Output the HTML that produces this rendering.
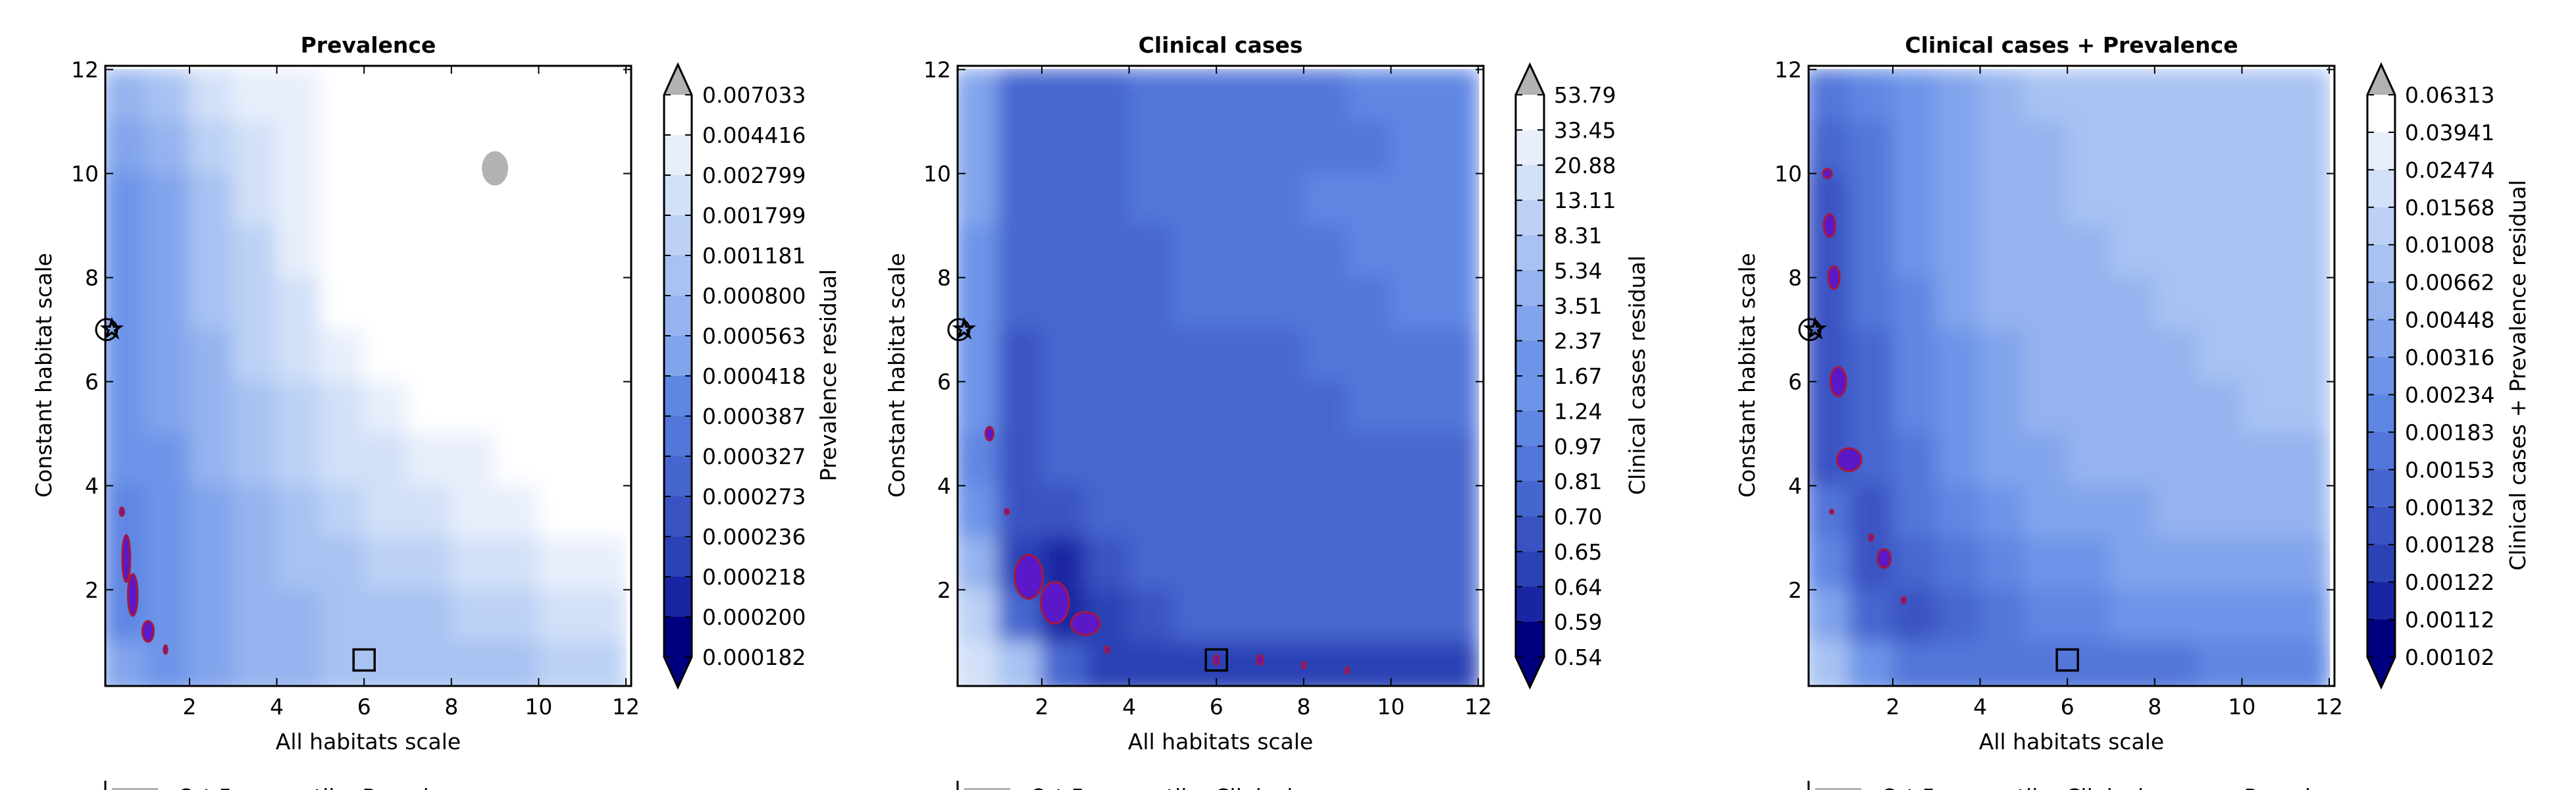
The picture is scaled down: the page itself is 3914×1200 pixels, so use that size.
<!DOCTYPE html>
<html><head><meta charset="utf-8">
<style>
html,body{margin:0;padding:0;background:#fff;}
svg{display:block;font-family:"DejaVu Sans","Liberation Sans",sans-serif;}
</style></head>
<body>
<svg id="fig" width="3914" height="1200" viewBox="0 0 3914 1200" xmlns="http://www.w3.org/2000/svg">
<defs>
<filter id="blur" x="0" y="0" width="100%" height="100%"><feGaussianBlur stdDeviation="15" edgeMode="duplicate"/></filter>
</defs>
</svg>
<script>
// colormap levels (index 0 darkest ... 14 white)
const levelColors = ["#00007f","#1a25a3","#2b42b5","#3a53c2","#4666cf","#5276d9","#5e86e3","#6d94e8","#82a4ec","#95b3ef","#a8c2f2","#bcd1f5","#d2e0f8","#e8effb","#ffffff"];

const xTicks = [2,4,6,8,10,12];
const yTicks = [2,4,6,8,10,12];

const prevLabels = ["0.007033","0.004416","0.002799","0.001799","0.001181","0.000800","0.000563","0.000418","0.000387","0.000327","0.000273","0.000236","0.000218","0.000200","0.000182"];
const clinLabels = ["53.79","33.45","20.88","13.11","8.31","5.34","3.51","2.37","1.67","1.24","0.97","0.81","0.70","0.65","0.64","0.59","0.54"];
const combLabels = ["0.06313","0.03941","0.02474","0.01568","0.01008","0.00662","0.00448","0.00316","0.00234","0.00183","0.00153","0.00132","0.00128","0.00122","0.00112","0.00102"];

// grid rows: y = 11.5 down to 0.5 ; cols x = 0.5 .. 11.5
const prevGrid = [
[9,10,12,13,13,14,14,14,14,14,14,14],
[8,9,11,12,13,14,14,14,14,14,14,14],
[7,8,10,12,13,14,14,14,14,14,14,14],
[7,8,10,11,13,14,14,14,14,14,14,14],
[7,8,10,11,12,14,14,14,14,14,14,14],
[7,8,9,11,12,13,14,14,14,14,14,14],
[7,8,9,10,11,12,13,14,14,14,14,14],
[7,7,9,10,11,12,12,13,13,14,14,14],
[6,7,8,9,10,11,12,12,13,13,14,14],
[6,7,8,9,10,10,11,11,12,12,13,13],
[6,7,8,9,9,10,10,10,11,11,12,12],
[8,7,8,9,9,10,10,10,10,10,11,11]];
const clinGrid = [
[8,4,4,4,5,5,5,5,5,6,6,6],
[8,4,4,4,5,5,5,5,5,5,6,6],
[8,4,4,4,5,5,5,5,6,6,6,6],
[7,4,4,4,4,5,5,5,5,6,6,6],
[7,4,4,4,4,5,5,5,5,5,6,6],
[7,3,4,4,4,4,4,4,5,5,5,5],
[7,3,4,4,4,4,4,4,4,5,5,5],
[6,3,4,4,4,4,4,4,4,4,4,4],
[7,3,3,4,4,4,4,4,4,4,4,4],
[9,2,1,3,4,4,4,4,4,4,4,4],
[11,4,1,2,3,4,4,4,4,4,4,4],
[12,10,4,2,2,2,2,2,2,2,2,2]];
const combGrid = [
[5,6,7,8,9,10,10,10,10,10,10,10],
[4,5,7,8,9,9,10,10,10,10,10,10],
[3,5,7,8,9,9,10,10,10,10,10,10],
[3,5,7,8,9,9,9,10,10,10,10,10],
[3,5,6,8,9,9,9,9,10,10,10,10],
[3,4,6,7,8,9,9,9,9,10,10,10],
[3,4,6,7,8,9,9,9,9,9,10,10],
[3,4,5,7,8,8,9,9,9,9,9,9],
[5,3,5,6,7,8,8,8,9,9,9,9],
[6,3,4,5,6,7,7,8,8,8,8,8],
[8,4,3,4,5,6,6,7,7,7,7,7],
[10,7,5,5,5,5,5,5,5,6,6,6]];

// purple contour blobs: [x, y, rx, ry] in data units
const prevBlobs = [[0.55,2.6,0.09,0.45],[0.7,1.9,0.11,0.4],[1.05,1.2,0.13,0.2],[1.45,0.85,0.04,0.08],[0.45,3.5,0.05,0.08]];
const clinBlobs = [[1.7,2.25,0.32,0.42],[2.3,1.75,0.32,0.4],[3.0,1.35,0.33,0.22],[0.8,5.0,0.09,0.13],[6.0,0.65,0.06,0.09],[7.0,0.65,0.07,0.09],[8.0,0.55,0.04,0.06],[9.0,0.45,0.04,0.06],[1.2,3.5,0.05,0.05],[3.5,0.85,0.05,0.06]];
const combBlobs = [[0.5,10.0,0.1,0.09],[0.55,9.0,0.13,0.22],[0.65,8.0,0.13,0.22],[0.75,6.0,0.18,0.28],[1.0,4.5,0.28,0.22],[1.8,2.6,0.15,0.18],[0.6,3.5,0.04,0.04],[1.5,3.0,0.05,0.06],[2.25,1.8,0.05,0.06]];

const panels = [
 {name:"prevalence", title:"Prevalence", cbTitle:"Prevalence residual", grid:prevGrid, labels:prevLabels, blobs:prevBlobs, ax:[160,959], cb:[1009,1051], lab:1067, cbt:1258, yl:66, grey:true},
 {name:"clinical-cases", title:"Clinical cases", cbTitle:"Clinical cases residual", grid:clinGrid, labels:clinLabels, blobs:clinBlobs, ax:[1455,2254], cb:[2303,2346], lab:2361, cbt:2487, yl:1362, grey:false},
 {name:"combined", title:"Clinical cases + Prevalence", cbTitle:"Clinical cases + Prevalence residual", grid:combGrid, labels:combLabels, blobs:combBlobs, ax:[2748,3547], cb:[3597,3639], lab:3654, cbt:3825, yl:2654, grey:false}
];
const NS="http://www.w3.org/2000/svg";
const svg=document.getElementById('fig');
function mk(tag,attrs,parent){const e=document.createElementNS(NS,tag);for(const k in attrs)e.setAttribute(k,attrs[k]);(parent||svg).appendChild(e);return e;}
const TOP=100,BOT=1042,XMIN=0.07,XMAX=12.12,YMIN=0.15,YMAX=12.07;
const FS=33;

panels.forEach((p,pi)=>{
  const L=p.ax[0],R=p.ax[1];
  const sx=v=>L+(v-XMIN)/(XMAX-XMIN)*(R-L);
  const sy=v=>BOT-(v-YMIN)/(YMAX-YMIN)*(BOT-TOP);
  const g=mk('g',{});
  
  
  const cid='clip'+pi;
  const cp=mk('clipPath',{id:cid},svg.querySelector('defs'));
  mk('rect',{x:L,y:TOP,width:R-L,height:BOT-TOP},cp);
  const field=mk('g',{'clip-path':'url(#'+cid+')'},g);
  
  
  const blurG=mk('g',{filter:'url(#blur)'},field);
  p.grid.forEach((row,ri)=>{
    row.forEach((lv,ci)=>{
      const x0=ci, x1=ci+1;
      const y1=12-ri, y0=11-ri;
      const r=mk('rect',{x:sx(x0)-1,y:sy(y1)-1,width:sx(x1)-sx(x0)+2,height:sy(y0)-sy(y1)+2,fill:levelColors[lv]},blurG);
      
      
    });
  });
  if(p.grey){
    const e=mk('ellipse',{cx:sx(9),cy:sy(10.1),rx:20,ry:26,fill:'#b2b2b2'},field);
    
    
  }
  p.blobs.forEach(b=>{
    const e=mk('ellipse',{cx:sx(b[0]),cy:sy(b[1]),rx:Math.abs(sx(b[0]+b[2])-sx(b[0])),ry:Math.abs(sy(b[1])-sy(b[1]+b[3])),fill:'#5a18c8',stroke:'#a8173c','stroke-width':3},field);
    
    
  });
  const star=mk('text',{x:sx(0.22),y:sy(7)+12,'font-size':38,'text-anchor':'middle',fill:'none',stroke:'#000','stroke-width':2.5},g);
  star.textContent='☆';
  
  
  const circ=mk('circle',{cx:sx(0.1),cy:sy(7),r:16,fill:'none',stroke:'#000','stroke-width':3},g);
  
  
  const sq=mk('rect',{x:sx(6)-16,y:sy(0.65)-16,width:32,height:32,fill:'none',stroke:'#000','stroke-width':3.5},g);
  
  
  const fr=mk('rect',{x:L,y:TOP,width:R-L,height:BOT-TOP,fill:'none',stroke:'#000','stroke-width':3},g);
  
  
  xTicks.forEach(t=>{
    const x=sx(t);
    mk('line',{x1:x,x2:x,y1:BOT,y2:BOT-12,stroke:'#000','stroke-width':2},g);
    mk('line',{x1:x,x2:x,y1:TOP,y2:TOP+12,stroke:'#000','stroke-width':2},g);
    const tl=mk('text',{x:x,y:BOT+43,'font-size':FS,'text-anchor':'middle'},g);
    tl.textContent=t;
    
    
  });
  yTicks.forEach(t=>{
    const y=sy(t);
    mk('line',{x1:L,x2:L+12,y1:y,y2:y,stroke:'#000','stroke-width':2},g);
    mk('line',{x1:R,x2:R-12,y1:y,y2:y,stroke:'#000','stroke-width':2},g);
    const tl=mk('text',{x:L-10,y:y+12,'font-size':FS,'text-anchor':'end'},g);
    tl.textContent=t;
    
    
  });
  const ti=mk('text',{x:(L+R)/2,y:80,'font-size':FS,'font-weight':'bold','text-anchor':'middle'},g);
  ti.textContent=p.title;
  
  
  const xl=mk('text',{x:(L+R)/2,y:1138,'font-size':FS,'text-anchor':'middle'},g);
  xl.textContent='All habitats scale';
  
  
  const yl=mk('text',{x:0,y:0,'font-size':FS,'text-anchor':'middle',transform:`translate(${p.yl+12},570) rotate(-90)`},g);
  yl.textContent='Constant habitat scale';
  
  
  const cb=mk('g',{},g);
  
  
  const cx0=p.cb[0],cx1=p.cb[1],cT=144,cB=998;
  const nSeg=p.labels.length-1;
  const segH=(cB-cT)/nSeg;
  for(let i=0;i<nSeg;i++){
    const lv=Math.round(14-i*14/(nSeg-1));
    mk('rect',{x:cx0,y:cT+i*segH,width:cx1-cx0,height:segH+0.6,fill:levelColors[lv]},cb);
  }
  mk('polygon',{points:`${cx0},${cT} ${(cx0+cx1)/2},98 ${cx1},${cT}`,fill:'#b2b2b2'},cb);
  mk('polygon',{points:`${cx0},${cB} ${(cx0+cx1)/2},1044 ${cx1},${cB}`,fill:'#00007f'},cb);
  mk('polygon',{points:`${cx0},${cT} ${(cx0+cx1)/2},98 ${cx1},${cT} ${cx1},${cB} ${(cx0+cx1)/2},1044 ${cx0},${cB}`,fill:'none',stroke:'#000','stroke-width':3},cb);
  p.labels.forEach((lb,i)=>{
    const y=cT+i*segH;
    mk('line',{x1:cx1,x2:cx1-10,y1:y,y2:y,stroke:'#000','stroke-width':2},cb);
    mk('line',{x1:cx0,x2:cx0+10,y1:y,y2:y,stroke:'#000','stroke-width':2},cb);
    const t=mk('text',{x:p.lab,y:y+12,'font-size':FS},cb);
    t.textContent=lb;
    
    
  });
  const ct=mk('text',{x:0,y:0,'font-size':FS,'text-anchor':'middle',transform:`translate(${p.cbt+12},570) rotate(-90)`},g);
  ct.textContent=p.cbTitle;
  
  
  const lg=mk('g',{},g);
  
  
  mk('line',{x1:L,x2:L,y1:1186,y2:1200,stroke:'#000','stroke-width':3},lg);
  mk('rect',{x:L+10,y:1197,width:70,height:10,fill:'#b2b2b2'},lg);
  const lt=mk('text',{x:L+110,y:1222,'font-size':FS},lg);
  lt.textContent='Q-t 5 percentile: '+p.title;
});
</script>
</body></html>
